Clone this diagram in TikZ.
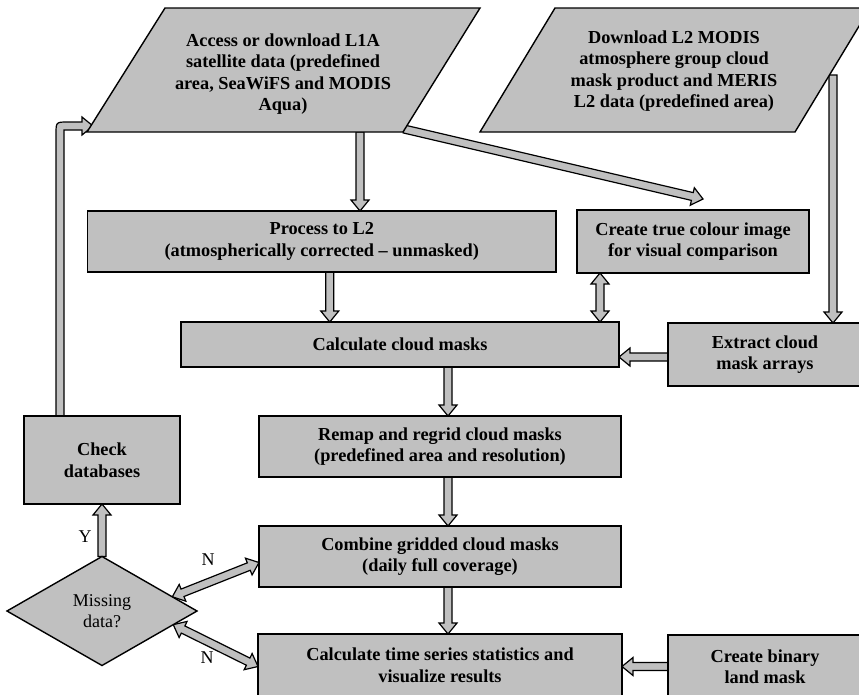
\documentclass[tikz,border=0pt]{standalone}
\usepackage{fontspec}
\setmainfont{Liberation Serif}
\usetikzlibrary{calc,shapes.geometric,backgrounds}
\definecolor{boxgray}{RGB}{192,192,192}
\tikzset{
  box/.style={draw=black, line width=1.4pt, fill=boxgray, align=center,
    font=\bfseries\fontsize{18.3}{21.5}\selectfont, inner sep=0pt, outer sep=0pt, anchor=north west},
  para/.style={draw=black, line width=1.4pt, fill=boxgray, line join=miter},
  ptext/.style={align=center, font=\bfseries\fontsize{18.3}{21.5}\selectfont, inner sep=0pt},
  decision/.style={diamond, draw=black, line width=1.4pt, fill=boxgray, align=center,
    font=\fontsize{18}{20.5}\selectfont, inner sep=0pt, outer sep=0pt,
    minimum width=190pt, minimum height=109pt, aspect=1.74},
  lbl/.style={font=\fontsize{18}{21}\selectfont, inner sep=0pt},
  fat/.style={draw=black, line width=1.2pt, fill=boxgray, line join=miter},
}
\newcommand\fatarrow[2]{%
  \coordinate (fas) at (#1);
  \coordinate (fae) at (#2);
  \coordinate (fah) at ($(fae)!11pt!(fas)$);
  \filldraw[fat] ($(fas)!4pt!90:(fae)$) -- ($(fah)!4pt!90:(fae)$) -- ($(fah)!9pt!90:(fae)$)
    -- (fae) -- ($(fah)!9pt!-90:(fae)$) -- ($(fah)!4pt!-90:(fae)$) -- ($(fas)!4pt!-90:(fae)$) -- cycle;}
\newcommand\fatdarrow[2]{%
  \coordinate (fas) at (#1);
  \coordinate (fae) at (#2);
  \coordinate (fah) at ($(fae)!11pt!(fas)$);
  \coordinate (fat) at ($(fas)!11pt!(fae)$);
  \filldraw[fat] (fas) -- ($(fat)!9pt!90:(fae)$) -- ($(fat)!4pt!90:(fae)$) -- ($(fah)!4pt!90:(fae)$)
    -- ($(fah)!9pt!90:(fae)$) -- (fae) -- ($(fah)!9pt!-90:(fae)$) -- ($(fah)!4pt!-90:(fae)$)
    -- ($(fat)!4pt!-90:(fae)$) -- ($(fat)!9pt!-90:(fae)$) -- cycle;}
\begin{document}
\begin{tikzpicture}[x=1pt,y=-1pt]
\useasboundingbox (0,0) rectangle (859,694);
\clip (0,0) rectangle (859,694);

% input parallelograms
\filldraw[para] (165,8) -- (480,8) -- (403,132) -- (87,132) -- cycle;
\node[ptext] (l1a) at (283,74) {Access or download L1A\\satellite data (predefined\\area, SeaWiFS and MODIS\\Aqua)};
\filldraw[para] (555,8) -- (870,8) -- (795,132) -- (480,132) -- cycle;
\node[ptext] (mod) at (674,71) {Download L2 MODIS\\atmosphere group cloud\\mask product and MERIS\\L2 data (predefined area)};
\coordinate (l1aS) at (360,132);
\coordinate (l1aSE) at (404,129);
\coordinate (l1aW) at (93,126);
\coordinate (modR) at (833,75);

% process boxes
\node[box, minimum width=468.5pt, minimum height=61pt] (proc) at (87.5,211) {Process to L2\\(atmospherically corrected -- unmasked)};
\node[box, minimum width=232pt, minimum height=63pt] (tcol) at (577,210) {Create true colour image\\for visual comparison};
\node[box, minimum width=438pt, minimum height=45pt] (ccm) at (181,322) {Calculate cloud masks};
\node[box, minimum width=194pt, minimum height=63pt] (ext) at (668,323) {Extract cloud\\mask arrays};
\node[box, minimum width=156pt, minimum height=88pt] (chk) at (24,416) {Check\\databases};
\node[box, minimum width=362pt, minimum height=61pt] (remap) at (259,416) {Remap and regrid cloud masks\\(predefined area and resolution)};
\node[box, minimum width=362pt, minimum height=61pt] (comb) at (259,526) {Combine gridded cloud masks\\(daily full coverage)};
\node[box, minimum width=364pt, minimum height=63pt] (ts) at (258,634) {Calculate time series statistics and\\visualize results};
\node[box, minimum width=194pt, minimum height=63pt] (land) at (668,635) {Create binary\\land mask};
\node[decision] (miss) at (102,611) {Missing\\data?};

% labels
\node[lbl] (ly) at (85,537) {Y};
\node[lbl] (ln1) at (208,560) {N};
\node[lbl] (ln2) at (207,658) {N};

% connectors (behind the shapes)
\begin{scope}[on background layer]
\fatarrow{l1aS}{l1aS |- proc.north}
\fatarrow{l1aSE}{$(tcol.north)+(10,-11)$}
\fatarrow{modR}{modR |- ext.north}
\coordinate (a4) at ($(proc.south)+(8,0)$);
\fatarrow{a4}{a4 |- ccm.north}
\coordinate (a5) at ($(tcol.south west)+(23,0)$);
\fatdarrow{a5}{a5 |- ccm.north}
\coordinate (a6) at ($(ext.west)+(0,2.5)$);
\fatarrow{a6}{a6 -| ccm.east}
\coordinate (a7) at ($(ccm.south)+(48,0)$);
\fatarrow{a7}{a7 |- remap.north}
\coordinate (a8) at ($(remap.south)+(8,0)$);
\fatarrow{a8}{a8 |- comb.north}
\coordinate (a9) at ($(comb.south)+(8,0)$);
\fatarrow{a9}{a9 |- ts.north}
\fatarrow{land.west}{land.west -| ts.east}
\coordinate (m1) at ($(miss.north)!0.74!(miss.east)$);
\fatdarrow{m1}{$(comb.west)+(0,6)$}
\coordinate (m2) at ($(miss.east)!0.25!(miss.south)$);
\fatdarrow{m2}{ts.west |- land.west}
\fatarrow{miss.north}{chk.south}
% elbow: Check databases -> L1A
\path (chk.north) ++(-42,0) coordinate (eb);
\coordinate (et) at (eb |- l1aW);
\filldraw[fat] ($(eb)+(-4,0)$) -- ($(et)+(-4,8)$) .. controls ($(et)+(-4,-4)$) .. ($(et)+(8,-4)$)
  -- ($(l1aW)+(-11,-4)$) -- ($(l1aW)+(-11,-9)$) -- (l1aW) -- ($(l1aW)+(-11,9)$)
  -- ($(l1aW)+(-11,4)$) -- ($(et)+(4,4)$) -- ($(eb)+(4,0)$) -- cycle;
\end{scope}
\end{tikzpicture}
\end{document}
